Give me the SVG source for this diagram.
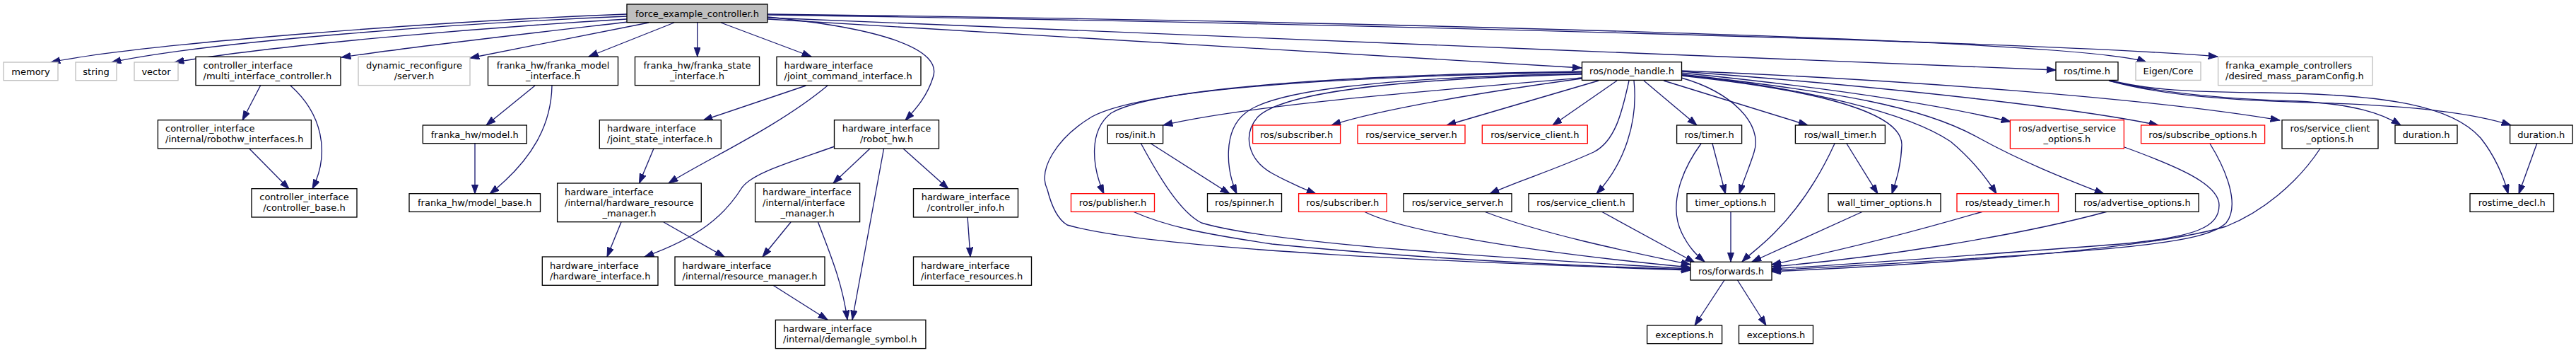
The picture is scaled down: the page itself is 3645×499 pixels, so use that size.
<svg xmlns="http://www.w3.org/2000/svg" width="3645" height="499" viewBox="0 0 3645 499">
<style>
.n rect{fill:#fff;stroke:#000;stroke-width:1.33}
.r rect{stroke:#f00}
.g rect{stroke:#bfbfbf}
.root rect{fill:#bfbfbf}
text{font-family:"DejaVu Sans","Liberation Sans",sans-serif;font-size:13px;fill:#000}
.c{text-anchor:middle}
.e path{fill:none;stroke:#191970;stroke-width:1.33;marker-end:url(#a)}
</style>
<defs>
<marker id="a" markerUnits="userSpaceOnUse" markerWidth="14" markerHeight="10" refX="13.3" refY="4.65" orient="auto">
<path d="M0,0 L13.3,4.65 L0,9.3 z" fill="#191970" stroke="#191970" stroke-width="1"/>
</marker>
</defs>
<rect width="3645" height="499" fill="#fff"/>
<g class="e">
<path d="M887,20 C620,30 200,62 72,88"/>
<path d="M887,23 C650,33 300,58 158,88"/>
<path d="M887,27 C700,38 400,62 247,88"/>
<path d="M889,31 C760,46 600,64 483,81"/>
<path d="M918,32 L665,82"/>
<path d="M954,32 L833,80"/>
<path d="M986.7,32 L986.7,80"/>
<path d="M1020,32 L1148,80"/>
<path d="M1086,24 C1250,40 1335,70 1320,110 C1312,135 1298,152 1281,170"/>
<path d="M1086,27 C1500,52 1900,75 2238,96"/>
<path d="M1086,25 C1700,50 2300,75 2909,99"/>
<path d="M1086,20 C1900,30 2950,55 3037,88"/>
<path d="M1086,21 C1900,33 2900,60 3138,80"/>
<path d="M368.5,121 L343,170"/>
<path d="M411,121 C455,160 468,215 442,267"/>
<path d="M352.7,210 L409,267"/>
<path d="M757,121 L688,177"/>
<path d="M781,121 C780,175 755,225 693,274"/>
<path d="M672,202 L672,274"/>
<path d="M1140.5,121 L995,170"/>
<path d="M1171,121 C1100,180 1000,225 946,259"/>
<path d="M925,210 L904.5,259"/>
<path d="M879,314 L859,363"/>
<path d="M939,314 L1025,363"/>
<path d="M1181,207 C1110,232 1065,245 1050,265 C1025,305 990,335 912,363"/>
<path d="M1231,210 L1179,259"/>
<path d="M1250.6,210 L1206,452"/>
<path d="M1278,210 L1342,267"/>
<path d="M1119,314 L1079,363"/>
<path d="M1157.5,314 C1175,360 1192,400 1199,452"/>
<path d="M1093.5,403 L1171,452"/>
<path d="M1369,306 L1373,363"/>
<path d="M2238,102 C1900,108 1620,125 1545,165 C1495,195 1468,240 1482,268 C1490,300 1500,312 1510,318 C1640,355 2100,372 2392,382"/>
<path d="M2238,101 C1900,106 1630,125 1572,160 C1540,185 1545,235 1562,274"/>
<path d="M2238,110 C2000,130 1760,150 1646,177"/>
<path d="M2238,104 C1950,110 1800,128 1762,160 C1730,185 1735,240 1750,274"/>
<path d="M2238,105 C1960,112 1815,132 1780,165 C1758,190 1765,225 1800,245 C1822,257 1842,266 1862,274"/>
<path d="M2238,111 C2100,130 1950,155 1884,177"/>
<path d="M2262,114 L2047,177"/>
<path d="M2288,114 L2197,177"/>
<path d="M2305,114 C2295,160 2285,200 2255,215 C2200,240 2150,255 2108,274"/>
<path d="M2312,114 C2318,170 2300,230 2259,274"/>
<path d="M2326,114 L2401,177"/>
<path d="M2354,114 L2558,177"/>
<path d="M2379,110 C2450,130 2495,175 2482,215 C2476,235 2468,252 2461,274"/>
<path d="M2379,107 C2550,125 2692,155 2691,205 C2690,235 2683,255 2677,274"/>
<path d="M2379,106 C2560,125 2700,160 2760,200 C2790,225 2810,250 2825,274"/>
<path d="M2379,105 C2600,130 2720,150 2800,195 C2860,228 2920,252 2977,274"/>
<path d="M2379,103 C2600,125 2750,150 2845,172"/>
<path d="M2379,101 C2700,125 2950,155 3054,177"/>
<path d="M2379,100 C2700,113 3050,140 3226,170"/>
<path d="M2984,113 C3030,125 3080,130 3200,131 C3380,133 3470,150 3510,195 C3530,220 3543,250 3549,274"/>
<path d="M2984,114 C3060,132 3150,140 3250,143 C3330,147 3370,160 3397,177"/>
<path d="M2984,114 C3060,135 3150,142 3300,146 C3420,150 3500,160 3553,177"/>
<path d="M3590,202 L3564,274"/>
<path d="M1614,202 C1640,250 1670,300 1700,315 C1800,345 2150,366 2392,380"/>
<path d="M1627,202 L1740,274"/>
<path d="M1603,299 C1650,320 1700,330 1800,345 C2000,365 2200,375 2392,381"/>
<path d="M1930,299 C1980,325 2150,355 2392,378"/>
<path d="M2100,299 C2180,330 2300,355 2392,374"/>
<path d="M2266,299 L2398,371"/>
<path d="M2407,203 C2380,240 2360,290 2380,330 C2390,350 2400,360 2412,370"/>
<path d="M2423,203 L2441.5,274"/>
<path d="M2449,299 L2449,370"/>
<path d="M2596,203 C2570,260 2540,300 2510,330 C2490,350 2475,360 2465,370"/>
<path d="M2613,203 L2657,274"/>
<path d="M2636,299 L2479,370"/>
<path d="M2806,299 C2700,330 2600,355 2507,374"/>
<path d="M2982,299 C2850,335 2650,365 2507,377"/>
<path d="M3006,208 C3080,235 3140,260 3140,290 C3140,320 3110,335 3000,345 C2800,360 2650,372 2507,380"/>
<path d="M3127,203 C3150,240 3170,290 3150,315 C3120,345 3000,355 2507,382"/>
<path d="M3283,210 C3250,260 3200,300 3150,320 C3050,350 2800,370 2507,384"/>
<path d="M2440,396 L2398,460"/>
<path d="M2458.5,396 L2499,460"/>
</g>
<g id="n0" class="n root"><rect x="887" y="6" width="199" height="25.7"/><text class="c" x="986.5" y="23.5">force_example_controller.h</text></g>
<g id="n1" class="n g"><rect x="5" y="88" width="77" height="25.7"/><text class="c" x="43.5" y="105.5">memory</text></g>
<g id="n2" class="n g"><rect x="107" y="88" width="58" height="25.7"/><text class="c" x="136" y="105.5">string</text></g>
<g id="n3" class="n g"><rect x="190" y="88" width="62" height="25.7"/><text class="c" x="221" y="105.5">vector</text></g>
<g id="n4" class="n"><rect x="277" y="80.3" width="205" height="40.3"/><text x="287.5" y="96.8">controller_interface</text><text x="287.5" y="111.8">/multi_interface_controller.h</text></g>
<g id="n5" class="n g"><rect x="507" y="80.3" width="158" height="40.3"/><text class="c" x="586" y="96.8">dynamic_reconfigure</text><text class="c" x="586" y="111.8">/server.h</text></g>
<g id="n6" class="n"><rect x="690.5" y="80.3" width="184" height="40.3"/><text class="c" x="782.5" y="96.8">franka_hw/franka_model</text><text class="c" x="782.5" y="111.8">_interface.h</text></g>
<g id="n7" class="n"><rect x="898.5" y="80.3" width="176" height="40.3"/><text class="c" x="986.5" y="96.8">franka_hw/franka_state</text><text class="c" x="986.5" y="111.8">_interface.h</text></g>
<g id="n8" class="n"><rect x="1099" y="80.3" width="204" height="40.3"/><text x="1109.5" y="96.8">hardware_interface</text><text x="1109.5" y="111.8">/joint_command_interface.h</text></g>
<g id="n9" class="n"><rect x="2238.5" y="87.7" width="141" height="25.7"/><text class="c" x="2309" y="105.2">ros/node_handle.h</text></g>
<g id="n10" class="n"><rect x="2909" y="87.7" width="88" height="25.7"/><text class="c" x="2953" y="105.2">ros/time.h</text></g>
<g id="n11" class="n g"><rect x="3022" y="87.7" width="92" height="25.7"/><text class="c" x="3068" y="105.2">Eigen/Core</text></g>
<g id="n12" class="n g"><rect x="3138.6" y="80.3" width="218.5" height="40.3"/><text x="3149" y="96.8">franka_example_controllers</text><text x="3149" y="111.8">/desired_mass_paramConfig.h</text></g>
<g id="n13" class="n"><rect x="223.4" y="169.7" width="217" height="40.3"/><text x="234" y="186.2">controller_interface</text><text x="234" y="201.2">/internal/robothw_interfaces.h</text></g>
<g id="n14" class="n"><rect x="598.3" y="177" width="147" height="25.7"/><text class="c" x="671.8" y="194.5">franka_hw/model.h</text></g>
<g id="n15" class="n"><rect x="848.3" y="169.7" width="172" height="40.3"/><text x="859" y="186.2">hardware_interface</text><text x="859" y="201.2">/joint_state_interface.h</text></g>
<g id="n16" class="n"><rect x="1180.5" y="169.7" width="148" height="40.3"/><text class="c" x="1254.5" y="186.2">hardware_interface</text><text class="c" x="1254.5" y="201.2">/robot_hw.h</text></g>
<g id="n17" class="n"><rect x="1567.3" y="177" width="78.3" height="25.7"/><text class="c" x="1606.5" y="194.5">ros/init.h</text></g>
<g id="n18" class="n r"><rect x="1772.6" y="177" width="124" height="25.7"/><text class="c" x="1834.6" y="194.5">ros/subscriber.h</text></g>
<g id="n19" class="n r"><rect x="1921" y="177" width="152" height="25.7"/><text class="c" x="1997" y="194.5">ros/service_server.h</text></g>
<g id="n20" class="n r"><rect x="2097.3" y="177" width="149" height="25.7"/><text class="c" x="2171.8" y="194.5">ros/service_client.h</text></g>
<g id="n21" class="n"><rect x="2372.6" y="177" width="92" height="25.7"/><text class="c" x="2418.6" y="194.5">ros/timer.h</text></g>
<g id="n22" class="n"><rect x="2540.4" y="177" width="127" height="25.7"/><text class="c" x="2604" y="194.5">ros/wall_timer.h</text></g>
<g id="n23" class="n r"><rect x="2844.4" y="169.7" width="161" height="40.3"/><text class="c" x="2925" y="186.2">ros/advertise_service</text><text class="c" x="2925" y="201.2">_options.h</text></g>
<g id="n24" class="n r"><rect x="3029.6" y="177" width="175" height="25.7"/><text class="c" x="3117" y="194.5">ros/subscribe_options.h</text></g>
<g id="n25" class="n"><rect x="3229" y="169.7" width="136" height="40.3"/><text class="c" x="3297" y="186.2">ros/service_client</text><text class="c" x="3297" y="201.2">_options.h</text></g>
<g id="n26" class="n"><rect x="3389" y="177" width="88" height="25.7"/><text class="c" x="3433" y="194.5">duration.h</text></g>
<g id="n27" class="n"><rect x="3551.6" y="177" width="88.5" height="25.7"/><text class="c" x="3595.8" y="194.5">duration.h</text></g>
<g id="n28" class="n"><rect x="356" y="266.7" width="149" height="40.3"/><text class="c" x="430.5" y="283.2">controller_interface</text><text class="c" x="430.5" y="298.2">/controller_base.h</text></g>
<g id="n29" class="n"><rect x="579" y="273.7" width="185.5" height="25.7"/><text class="c" x="671.8" y="291.2">franka_hw/model_base.h</text></g>
<g id="n30" class="n"><rect x="788.6" y="259" width="203.7" height="54.7"/><text x="799" y="275.5">hardware_interface</text><text x="799" y="290.5">/internal/hardware_resource</text><text class="c" x="890.5" y="305.5">_manager.h</text></g>
<g id="n31" class="n"><rect x="1068.6" y="259" width="148" height="54.7"/><text x="1079" y="275.5">hardware_interface</text><text x="1079" y="290.5">/internal/interface</text><text class="c" x="1142.6" y="305.5">_manager.h</text></g>
<g id="n32" class="n"><rect x="1292.5" y="266.7" width="148" height="40.3"/><text class="c" x="1366.5" y="283.2">hardware_interface</text><text class="c" x="1366.5" y="298.2">/controller_info.h</text></g>
<g id="n33" class="n r"><rect x="1515.5" y="273.7" width="118" height="25.7"/><text class="c" x="1574.5" y="291.2">ros/publisher.h</text></g>
<g id="n34" class="n"><rect x="1708.5" y="273.7" width="105" height="25.7"/><text class="c" x="1761" y="291.2">ros/spinner.h</text></g>
<g id="n35" class="n r"><rect x="1837.6" y="273.7" width="124.5" height="25.7"/><text class="c" x="1899.8" y="291.2">ros/subscriber.h</text></g>
<g id="n36" class="n"><rect x="1986" y="273.7" width="153" height="25.7"/><text class="c" x="2062.5" y="291.2">ros/service_server.h</text></g>
<g id="n37" class="n"><rect x="2163" y="273.7" width="148" height="25.7"/><text class="c" x="2237" y="291.2">ros/service_client.h</text></g>
<g id="n38" class="n"><rect x="2387" y="273.7" width="124" height="25.7"/><text class="c" x="2449" y="291.2">timer_options.h</text></g>
<g id="n39" class="n"><rect x="2587" y="273.7" width="159" height="25.7"/><text class="c" x="2666.5" y="291.2">wall_timer_options.h</text></g>
<g id="n40" class="n r"><rect x="2769" y="273.7" width="143.5" height="25.7"/><text class="c" x="2840.8" y="291.2">ros/steady_timer.h</text></g>
<g id="n41" class="n"><rect x="2936.6" y="273.7" width="174.5" height="25.7"/><text class="c" x="3023.8" y="291.2">ros/advertise_options.h</text></g>
<g id="n42" class="n"><rect x="3495" y="273.7" width="118.5" height="25.7"/><text class="c" x="3554.3" y="291.2">rostime_decl.h</text></g>
<g id="n43" class="n"><rect x="767.3" y="363" width="163.7" height="40.3"/><text x="778" y="379.5">hardware_interface</text><text x="778" y="394.5">/hardware_interface.h</text></g>
<g id="n44" class="n"><rect x="955" y="363" width="212" height="40.3"/><text x="965.5" y="379.5">hardware_interface</text><text x="965.5" y="394.5">/internal/resource_manager.h</text></g>
<g id="n45" class="n"><rect x="1292.5" y="363" width="167" height="40.3"/><text x="1303" y="379.5">hardware_interface</text><text x="1303" y="394.5">/interface_resources.h</text></g>
<g id="n46" class="n"><rect x="2392" y="370.3" width="115" height="25.7"/><text class="c" x="2449.5" y="387.8">ros/forwards.h</text></g>
<g id="n47" class="n"><rect x="1097.4" y="452.3" width="212.5" height="40.3"/><text x="1108" y="468.8">hardware_interface</text><text x="1108" y="483.8">/internal/demangle_symbol.h</text></g>
<g id="n48" class="n"><rect x="2330.6" y="460" width="106" height="25.7"/><text class="c" x="2383.6" y="477.5">exceptions.h</text></g>
<g id="n49" class="n"><rect x="2460.5" y="460" width="105" height="25.7"/><text class="c" x="2513" y="477.5">exceptions.h</text></g>
</svg>
